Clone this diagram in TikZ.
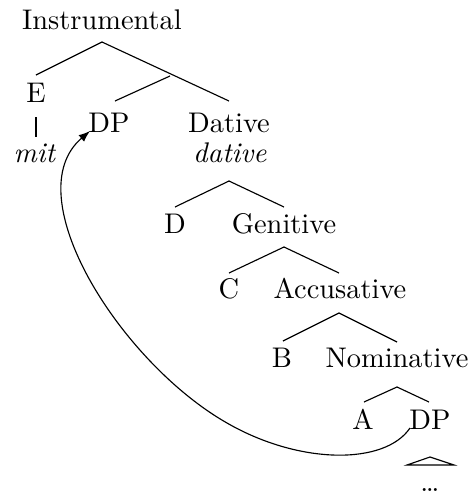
\documentclass[tikz,border=0pt]{standalone}
\usetikzlibrary{arrows.meta}
\begin{document}
\begin{tikzpicture}[x=0.3521pt,y=-0.3521pt,
  lbl/.style={anchor=base,inner sep=0pt,outer sep=0pt},
  br/.style={line width=0.4pt},
  mv/.style={line width=0.4pt,-{Latex[length=4pt,width=3pt]}}]
\useasboundingbox (0,0) rectangle (470,496);
% labels
\node[lbl] (instr) at (102,29) {Instrumental};
\node[lbl] (E) at (36,102) {E};
\node[lbl] (mit) at (35,162) {\textit{mit}};
\node[lbl] (dp1) at (109,132) {DP};
\node[lbl] (dat) at (229,132) {Dative};
\node[lbl] (dati) at (230,162) {\textit{dative}};
\node[lbl] (D) at (175,233) {D};
\node[lbl] (gen) at (284,233) {Genitive};
\node[lbl] (C) at (229,298) {C};
\node[lbl] (acc) at (340,298) {Accusative};
\node[lbl] (B) at (282,367) {B};
\node[lbl] (nom) at (397,367) {Nominative};
\node[lbl] (A) at (363,429) {A};
\node[lbl] (dp2) at (430,429) {DP};
\node[lbl] (dots) at (430,491) {\dots};
% branch coordinates
\coordinate (i0) at (102,42);
\coordinate (iE) at (36,75);
\coordinate (iR) at (229,101);
\coordinate (iJ) at (170,76);
\coordinate (iD) at (115,101);
\coordinate (eT) at (36,117);
\coordinate (eB) at (36,137);
\coordinate (d0) at (229,181);
\coordinate (dL) at (175,207);
\coordinate (dR) at (284,207);
\coordinate (g0) at (284,247);
\coordinate (gL) at (229,273);
\coordinate (gR) at (339,273);
\coordinate (a0) at (339,313);
\coordinate (aL) at (283,341);
\coordinate (aR) at (397,342);
\coordinate (n0) at (397,387);
\coordinate (nL) at (364,402);
\coordinate (nR) at (429,402);
\coordinate (t0) at (430,457);
\coordinate (tL) at (407,465);
\coordinate (tR) at (454,465);
\coordinate (mvS) at (410,428);
\coordinate (mvM) at (227,423);
\coordinate (mvE) at (90,131);
% branches
\draw[br] (iE) -- (i0) -- (iR);
\draw[br] (iJ) -- (iD);
\draw[br] (eT) -- (eB);
\draw[br] (dL) -- (d0) -- (dR);
\draw[br] (gL) -- (g0) -- (gR);
\draw[br] (aL) -- (a0) -- (aR);
\draw[br] (nL) -- (n0) -- (nR);
\draw[br] (t0) -- (tL) -- (tR) -- cycle;
% movement arrow
\draw[mv] (mvS) .. controls (385,465) and (300,465) .. (mvM)
  .. controls (120,362) and (15,195) .. (mvE);
\end{tikzpicture}
\end{document}
